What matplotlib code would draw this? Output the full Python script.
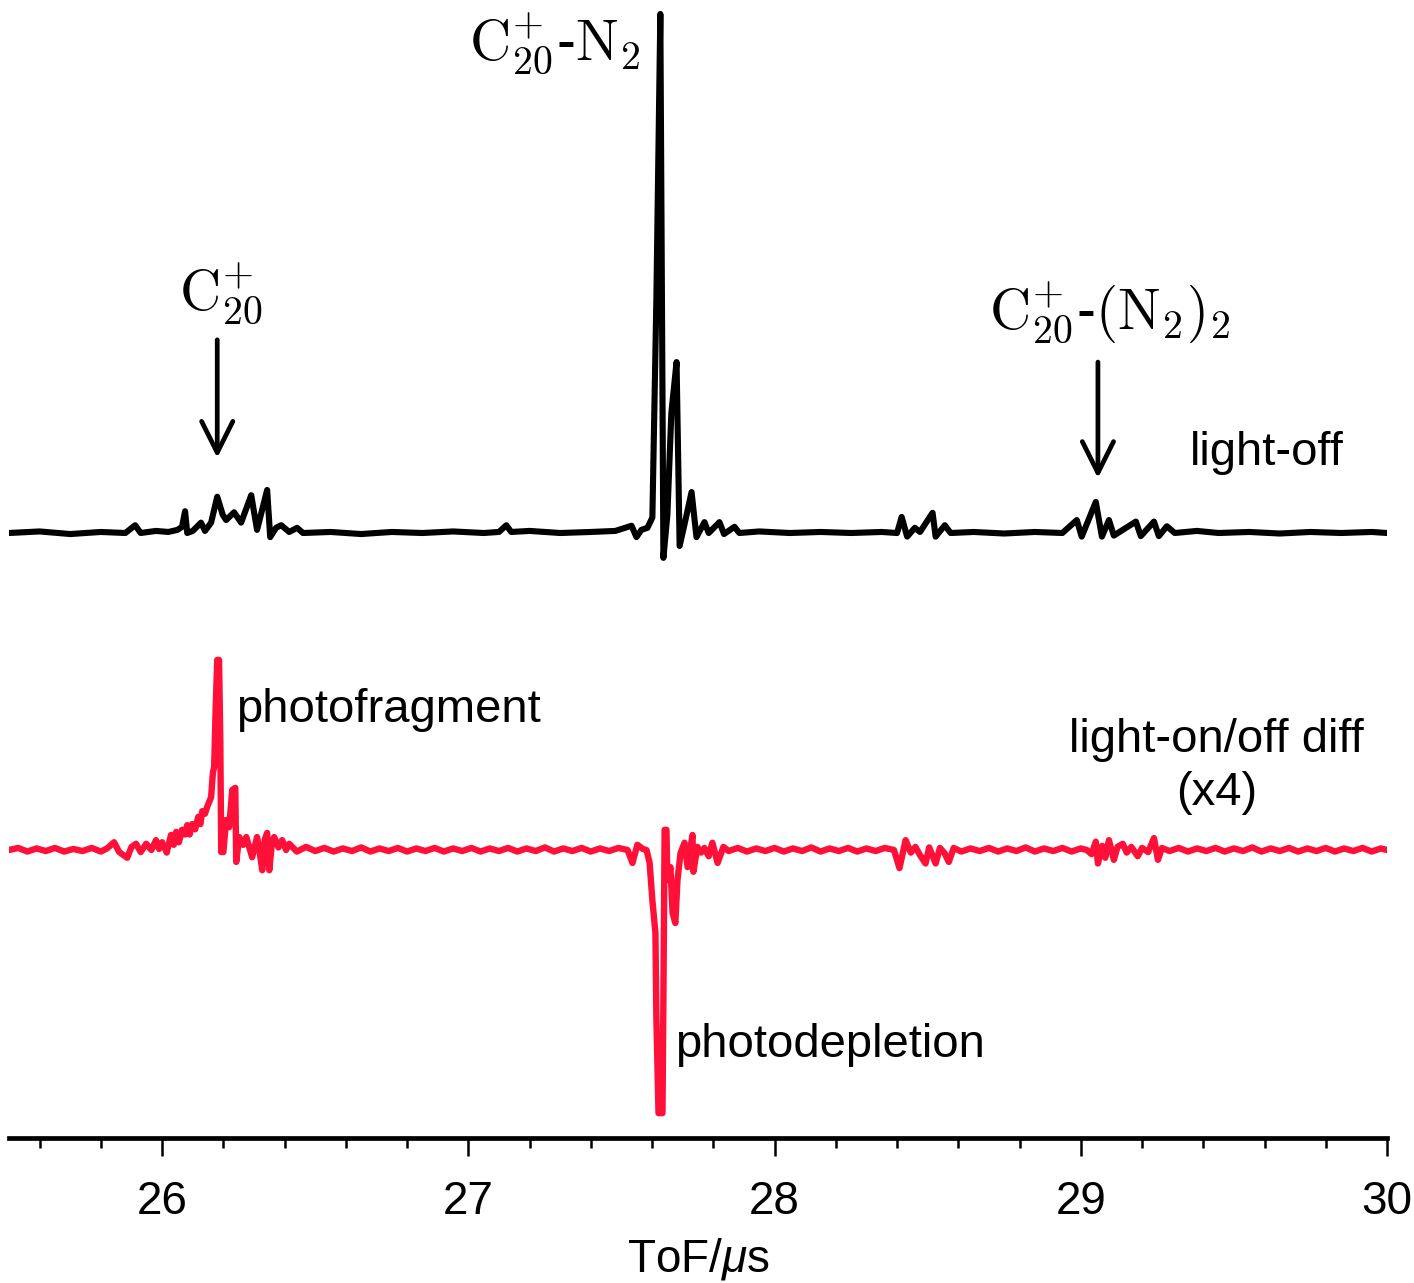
import matplotlib
matplotlib.use("Agg")
import matplotlib.pyplot as plt
from matplotlib.ticker import MultipleLocator

plt.rcParams['font.family'] = ['Liberation Sans', 'DejaVu Sans']
plt.rcParams['mathtext.fontset'] = 'custom'
plt.rcParams['mathtext.rm'] = 'Liberation Sans'
plt.rcParams['mathtext.it'] = 'Liberation Sans:italic'

# light-off mass spectrum (ToF in us, signal normalised to the C20+-N2 peak)
off_t = [25.50, 25.60, 25.70, 25.80, 25.88, 25.912, 25.93, 25.98, 26.02, 26.05,
         26.065, 26.075, 26.082, 26.10, 26.127, 26.140, 26.160, 26.180, 26.198, 26.209,
         26.235, 26.258, 26.291, 26.310, 26.343, 26.353, 26.372, 26.389, 26.415, 26.441,
         26.46, 26.55, 26.65, 26.75, 26.85, 26.95, 27.05, 27.10, 27.124, 27.14,
         27.20, 27.30, 27.40, 27.48, 27.533, 27.549, 27.565, 27.585, 27.601, 27.614,
         27.627, 27.637, 27.650, 27.663, 27.680, 27.690, 27.709, 27.729, 27.745, 27.771,
         27.785, 27.820, 27.835, 27.869, 27.885, 27.95, 28.05, 28.15, 28.25, 28.35,
         28.40, 28.415, 28.433, 28.458, 28.475, 28.516, 28.526, 28.556, 28.575, 28.65,
         28.75, 28.85, 28.94, 28.987, 29.003, 29.049, 29.069, 29.092, 29.108, 29.137,
         29.180, 29.196, 29.239, 29.255, 29.281, 29.307, 29.379, 29.45, 29.55, 29.65,
         29.75, 29.85, 29.95, 30.00]
off_y = [0.000, 0.003, -0.002, 0.002, 0.000, 0.015, 0.000, 0.004, 0.002, 0.006,
         0.012, 0.042, 0.000, 0.004, 0.020, 0.004, 0.020, 0.070, 0.035, 0.025,
         0.040, 0.020, 0.073, 0.006, 0.083, -0.008, 0.010, 0.015, 0.002, 0.010,
         0.000, 0.002, -0.002, 0.002, 0.000, 0.003, 0.000, 0.002, 0.015, 0.002,
         0.004, 0.000, 0.002, 0.004, 0.014, -0.008, 0.006, 0.010, 0.030, 0.450,
         1.002, -0.048, 0.035, 0.232, 0.330, -0.025, 0.025, 0.079, -0.008, 0.021,
         0.000, 0.021, -0.002, 0.012, 0.000, 0.003, 0.000, 0.002, 0.000, 0.002,
         0.000, 0.031, -0.007, 0.010, 0.002, 0.039, -0.007, 0.015, 0.000, 0.002,
         -0.001, 0.002, 0.000, 0.025, -0.007, 0.060, -0.007, 0.025, -0.005, 0.006,
         0.022, -0.006, 0.022, -0.006, 0.013, 0.000, 0.004, 0.000, 0.002, -0.001,
         0.002, 0.000, 0.002, 0.000]

# light-on minus light-off difference (x4)
diff_t = [25.500, 25.530, 25.560, 25.590, 25.620, 25.650, 25.680, 25.710, 25.740, 25.770,
          25.800, 25.820, 25.843, 25.860, 25.886, 25.900, 25.915, 25.930, 25.948, 25.965,
          25.980, 25.990, 26.000, 26.015, 26.029, 26.038, 26.046, 26.055, 26.065, 26.075,
          26.082, 26.090, 26.098, 26.108, 26.118, 26.125, 26.131, 26.140, 26.147, 26.155,
          26.160, 26.166, 26.170, 26.175, 26.180, 26.186, 26.190, 26.193, 26.200, 26.209,
          26.219, 26.229, 26.239, 26.242, 26.252, 26.265, 26.275, 26.294, 26.310, 26.320,
          26.327, 26.335, 26.343, 26.350, 26.358, 26.366, 26.380, 26.392, 26.405, 26.415,
          26.44, 26.47, 26.50, 26.53, 26.56, 26.59, 26.62, 26.65, 26.68, 26.71,
          26.74, 26.77, 26.80, 26.83, 26.86, 26.89, 26.92, 26.95, 26.98, 27.01,
          27.04, 27.07, 27.10, 27.13, 27.16, 27.19, 27.22, 27.25, 27.28, 27.31,
          27.34, 27.37, 27.40, 27.43, 27.46, 27.49, 27.52, 27.536, 27.552, 27.570,
          27.582, 27.592, 27.601, 27.611, 27.614, 27.621, 27.634, 27.637, 27.641, 27.647,
          27.650, 27.660, 27.667, 27.676, 27.683, 27.693, 27.706, 27.716, 27.732, 27.735,
          27.748, 27.760, 27.771, 27.785, 27.797, 27.814, 27.833, 27.85, 27.88, 27.91,
          27.94, 27.97, 28.00, 28.03, 28.06, 28.09, 28.12, 28.15, 28.18, 28.21,
          28.24, 28.27, 28.30, 28.33, 28.36, 28.39, 28.408, 28.428, 28.445, 28.460,
          28.475, 28.493, 28.505, 28.526, 28.540, 28.555, 28.569, 28.585, 28.61, 28.64,
          28.67, 28.70, 28.73, 28.76, 28.79, 28.82, 28.85, 28.88, 28.91, 28.94,
          28.97, 29.00, 29.02, 29.035, 29.049, 29.056, 29.070, 29.080, 29.092, 29.108,
          29.120, 29.137, 29.150, 29.165, 29.186, 29.200, 29.220, 29.239, 29.252, 29.265,
          29.29, 29.32, 29.35, 29.38, 29.41, 29.44, 29.47, 29.50, 29.53, 29.56,
          29.59, 29.62, 29.65, 29.68, 29.71, 29.74, 29.77, 29.80, 29.83, 29.86,
          29.89, 29.92, 29.95, 29.98, 30.00]
diff_y = [0.000, 0.004, -0.003, 0.003, -0.002, 0.004, -0.003, 0.002, -0.002, 0.004,
          -0.003, 0.003, 0.015, -0.004, -0.015, 0.006, 0.012, -0.004, 0.012, 0.000,
          0.019, 0.002, 0.015, -0.005, 0.029, 0.010, 0.035, 0.015, 0.039, 0.030,
          0.048, 0.030, 0.050, 0.040, 0.064, 0.050, 0.075, 0.070, 0.083, 0.095,
          0.102, 0.150, 0.160, 0.276, 0.367, 0.367, 0.212, -0.004, -0.004, 0.058,
          0.044, 0.116, 0.120, -0.023, 0.025, 0.010, 0.025, -0.014, 0.025, -0.010,
          -0.039, 0.020, 0.033, -0.039, 0.010, 0.025, 0.005, 0.019, 0.000, 0.012,
          -0.003, 0.006, -0.002, 0.004, -0.003, 0.003, -0.002, 0.005, -0.003, 0.003,
          -0.002, 0.004, -0.003, 0.003, -0.002, 0.004, -0.003, 0.003, -0.002, 0.004,
          -0.003, 0.003, -0.002, 0.004, -0.003, 0.003, -0.002, 0.005, -0.003, 0.003,
          -0.002, 0.004, -0.003, 0.003, -0.002, 0.004, 0.000, -0.025, 0.010, 0.002,
          0.000, -0.025, -0.097, -0.160, -0.322, -0.508, -0.508, -0.289, 0.039, 0.039,
          -0.058, -0.033, -0.122, -0.141, -0.058, -0.006, 0.014, -0.033, 0.029, -0.042,
          0.006, -0.005, 0.004, -0.012, 0.014, -0.025, 0.006, -0.002, 0.004, -0.003,
          0.003, -0.002, 0.004, -0.003, 0.003, -0.002, 0.005, -0.003, 0.003, -0.002,
          0.004, -0.003, 0.003, -0.002, 0.004, 0.000, -0.035, 0.019, -0.005, 0.006,
          -0.010, -0.026, 0.005, -0.026, 0.004, -0.006, -0.023, 0.004, -0.003, 0.003,
          -0.002, 0.004, -0.003, 0.003, -0.002, 0.005, -0.003, 0.003, -0.002, 0.004,
          -0.003, 0.003, 0.000, -0.008, 0.016, -0.026, 0.008, -0.015, 0.019, -0.019,
          0.006, 0.012, -0.005, 0.006, -0.012, 0.004, -0.004, 0.023, -0.019, 0.004,
          -0.002, 0.004, -0.003, 0.003, -0.002, 0.004, -0.003, 0.003, -0.002, 0.005,
          -0.003, 0.003, -0.002, 0.004, -0.003, 0.003, -0.002, 0.004, -0.003, 0.003,
          -0.002, 0.004, -0.003, 0.003, 0.000]

diff_offset = -0.612   # vertical shift of the difference trace

fig = plt.figure(figsize=(14.14, 12.83), dpi=100)
ax = fig.add_axes([9 / 1414, 145 / 1283, 1378 / 1414, 1138 / 1283])

ax.plot(off_t, off_y, color='black', lw=4.4, solid_joinstyle='round', zorder=3)
ax.plot(diff_t, [v + diff_offset for v in diff_y], color='#ff1038', lw=4.6,
        solid_joinstyle='round', zorder=2)

ax.set_xlim(25.5, 30.0)
ax.set_ylim(-1.168, 1.029)

# only the bottom axis is shown
for s in ['left', 'right', 'top']:
    ax.spines[s].set_visible(False)
ax.spines['bottom'].set_linewidth(3.4)
ax.set_yticks([])
ax.xaxis.set_major_locator(MultipleLocator(1))
ax.xaxis.set_minor_locator(MultipleLocator(0.2))
ax.tick_params(axis='x', which='major', direction='out', length=13, width=1.8,
               pad=17, labelsize=33)
ax.tick_params(axis='x', which='minor', direction='out', length=7.5, width=1.8)
ax.set_xlabel(r'ToF/$\mu$s', fontsize=33, labelpad=9)

# peak labels and arrows
arrow = dict(arrowstyle='->,head_length=0.5,head_width=0.25', lw=3.4,
             color='black', shrinkA=0, shrinkB=0, mutation_scale=45)
ax.annotate('', xy=(26.18, 0.145), xytext=(26.18, 0.373), arrowprops=arrow)
ax.annotate('', xy=(29.056, 0.106), xytext=(29.056, 0.330), arrowprops=arrow)

ax.text(26.193, 0.46, r'$\mathrm{C}_{20}^{+}$', fontsize=41, math_fontfamily='cm',
        ha='center', va='center')
ax.text(27.281, 0.944, r'$\mathrm{C}_{20}^{+}$-$\mathrm{N}_{2}$', fontsize=41,
        math_fontfamily='cm', ha='center', va='center')
ax.text(29.095, 0.423, r'$\mathrm{C}_{20}^{+}$-$(\mathrm{N}_{2})_{2}$', fontsize=41,
        math_fontfamily='cm', ha='center', va='center')

ax.text(29.356, 0.131, 'light-off', fontsize=34, ha='left', va='baseline')
ax.text(26.242, -0.365, 'photofragment', fontsize=34, ha='left', va='baseline')
ax.text(29.444, -0.525, 'light-on/off diff\n(x4)', fontsize=34, ha='center',
        va='baseline', multialignment='center', linespacing=1.25)
ax.text(27.676, -1.012, 'photodepletion', fontsize=34, ha='left', va='baseline')

fig.savefig('out.png', dpi=100)
